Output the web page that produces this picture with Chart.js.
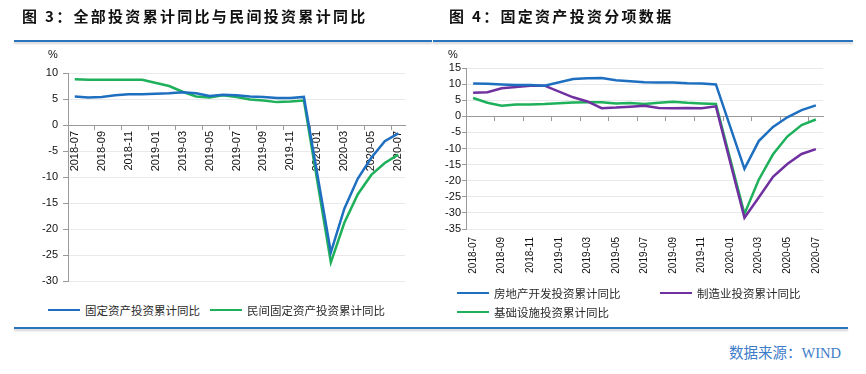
<!DOCTYPE html>
<html>
<head>
<meta charset="utf-8">
<script src="https://cdn.jsdelivr.net/npm/chart.js@4.4.1/dist/chart.umd.min.js"></script>
<style>
  html, body { margin: 0; padding: 0; background: #fff; }
  #page { position: relative; width: 866px; height: 374px; overflow: hidden; font-family: "Noto Sans CJK SC", sans-serif; }
  .title { position: absolute; top: 5px; font-size: 15px; font-weight: 700; letter-spacing: 2.3px; color: #111; white-space: nowrap; z-index: 2; }
  .rule { position: absolute; height: 2px; background: #2a74bd; box-shadow: 0 2px 2px rgba(0,0,0,0.18); }
  canvas { position: absolute; top: 0; }
  .unit { position: absolute; top: 48px; font: 11px "Liberation Sans", Arial, sans-serif; color: #111; }
  .leg { position: absolute; display: flex; align-items: center; font-size: 11.5px; color: #2b2b2b; white-space: nowrap; line-height: 14px; z-index: 2; }
  .leg i { display: block; width: 32px; height: 2.5px; margin-right: 5px; }
  #src { position: absolute; right: 25px; top: 341px; font-family: "Liberation Serif", "Noto Sans CJK SC", serif; font-size: 14.5px; color: #3d7cc9; }
</style>
</head>
<body>
<div id="page">
  <div class="title" style="left:22px">图 3：全部投资累计同比与民间投资累计同比</div>
  <div class="title" style="left:449px">图 4：固定资产投资分项数据</div>
  <div class="rule" style="left:14px; top:40px; width:418px"></div>
  <div class="rule" style="left:433px; top:40px; width:420px"></div>

  <canvas id="c1" width="433" height="300" style="left:0"></canvas>
  <canvas id="c2" width="433" height="300" style="left:433px"></canvas>

  <div class="unit" style="left:48px">%</div>
  <div class="unit" style="left:448px">%</div>

  <div class="leg" style="left:48px; top:303px"><i style="background:#1f6fc0"></i>固定资产投资累计同比</div>
  <div class="leg" style="left:210px; top:303px"><i style="background:#1eb05a"></i>民间固定资产投资累计同比</div>

  <div class="leg" style="left:457px; top:286px"><i style="background:#1f6fc0"></i>房地产开发投资累计同比</div>
  <div class="leg" style="left:660px; top:286px"><i style="background:#7030a0"></i>制造业投资累计同比</div>
  <div class="leg" style="left:457px; top:305px"><i style="background:#1eb05a"></i>基础设施投资累计同比</div>

  <div class="rule" style="left:14px; top:327px; width:834px"></div>
  <div id="src">数据来源：WIND</div>
</div>

<script>
// monthly cumulative yoy, %, Jan has no separate release
const months = ['2018-07', '2018-08', '2018-09', '2018-10', '2018-11', '2018-12',
  '2019-01', '2019-02', '2019-03', '2019-04', '2019-05', '2019-06', '2019-07',
  '2019-08', '2019-09', '2019-10', '2019-11', '2019-12',
  '2020-01', '2020-02', '2020-03', '2020-04', '2020-05', '2020-06', '2020-07'];

const totalFAI = [5.5, 5.3, 5.4, 5.7, 5.9, 5.9, null, 6.1, 6.3, 6.1, 5.6, 5.8, 5.7,
  5.5, 5.4, 5.2, 5.2, 5.4, null, -24.5, -16.1, -10.3, -6.3, -3.1, -1.6];
const privateFAI = [8.8, 8.7, 8.7, 8.7, 8.7, 8.7, null, 7.5, 6.4, 5.5, 5.3, 5.7, 5.4,
  4.9, 4.7, 4.4, 4.5, 4.7, null, -26.4, -18.8, -13.3, -9.6, -7.3, -5.7];

const realEstate = [10.2, 10.1, 9.9, 9.7, 9.7, 9.5, null, 11.6, 11.8, 11.9, 11.2, 10.9, 10.6,
  10.5, 10.5, 10.3, 10.2, 9.9, null, -16.3, -7.7, -3.3, -0.3, 1.9, 3.4];
const manufacturing = [7.3, 7.5, 8.7, 9.1, 9.5, 9.5, null, 5.9, 4.6, 2.5, 2.7, 3.0, 3.3,
  2.6, 2.5, 2.6, 2.5, 3.1, null, -31.5, -25.2, -18.8, -14.8, -11.7, -10.2];
const infrastructure = [5.7, 4.2, 3.3, 3.7, 3.7, 3.8, null, 4.3, 4.4, 4.4, 4.0, 4.1, 3.8,
  4.2, 4.5, 4.2, 4.0, 3.8, null, -30.3, -19.7, -11.8, -6.3, -2.7, -1.0];

const BLUE = '#1f6fc0';
const GREEN = '#1eb05a';
const PURPLE = '#7030a0';
const AXIS = '#9a9a9a';
const GRID = '#e9e9e9';
const tickFont = { family: '"Liberation Sans", Arial, sans-serif', size: 11 };

const everyOther = (v, i) => (i % 2 ? '' : months[i]);
const evenTick = (ctx) => (ctx.index !== undefined && ctx.index % 2 === 0 ? AXIS : 'rgba(0,0,0,0)');

const line = (label, data, color) => ({
  label, data, borderColor: color, backgroundColor: color,
  borderWidth: 2.5, pointRadius: 0, tension: 0, spanGaps: true
});

// left: total vs private
new Chart(document.getElementById('c1'), {
  type: 'line',
  data: {
    labels: months,
    datasets: [
      line('固定资产投资累计同比', totalFAI, BLUE),
      line('民间固定资产投资累计同比', privateFAI, GREEN)
    ]
  },
  options: {
    responsive: false,
    animation: false,
    layout: { padding: { left: 28, right: 28, top: 73, bottom: 19 } },
    plugins: { legend: { display: false }, tooltip: { enabled: false } },
    scales: {
      x: {
        type: 'category',
        position: { y: 0 },
        offset: true,
        grid: { offset: true, drawOnChartArea: false, tickLength: 4, color: evenTick },
        border: { color: AXIS },
        ticks: { autoSkip: false, maxRotation: 90, minRotation: 90, padding: 2, font: tickFont, color: '#111', callback: everyOther },
        afterFit: (s) => { s.height = 0; }
      },
      y: {
        min: -30, max: 10,
        ticks: { stepSize: 5, autoSkip: false, padding: 5, font: tickFont, color: '#111' },
        grid: { color: GRID, tickColor: AXIS, tickLength: 5 },
        border: { color: AXIS },
        afterFit: (s) => { s.width = 40; }
      }
    }
  }
});

// right: breakdown by sector
new Chart(document.getElementById('c2'), {
  type: 'line',
  data: {
    labels: months,
    datasets: [
      line('房地产开发投资累计同比', realEstate, BLUE),
      line('制造业投资累计同比', manufacturing, PURPLE),
      line('基础设施投资累计同比', infrastructure, GREEN)
    ]
  },
  options: {
    responsive: false,
    animation: false,
    layout: { padding: { left: 3, right: 43, top: 68, bottom: 0 } },
    plugins: { legend: { display: false }, tooltip: { enabled: false } },
    scales: {
      x: {
        type: 'category',
        position: 'bottom',
        offset: true,
        grid: { display: false, drawTicks: false },
        border: { display: false },
        ticks: { autoSkip: false, maxRotation: 90, minRotation: 90, padding: 8, font: { family: tickFont.family, size: 10 }, color: '#111', callback: everyOther },
        afterFit: (s) => { s.height = 71; }
      },
      x2: {
        axis: 'x',
        type: 'category',
        position: { y: 0 },
        offset: true,
        grid: { offset: true, drawOnChartArea: false, tickLength: 4, color: evenTick },
        border: { color: AXIS },
        ticks: { display: false, autoSkip: false },
        afterFit: (s) => { s.height = 0; }
      },
      y: {
        min: -35, max: 15,
        ticks: { stepSize: 5, autoSkip: false, padding: 1, font: tickFont, color: '#111' },
        grid: { color: GRID, tickColor: AXIS, tickLength: 4 },
        border: { color: AXIS },
        afterFit: (s) => { s.width = 30; }
      }
    }
  }
});
</script>
</body>
</html>
